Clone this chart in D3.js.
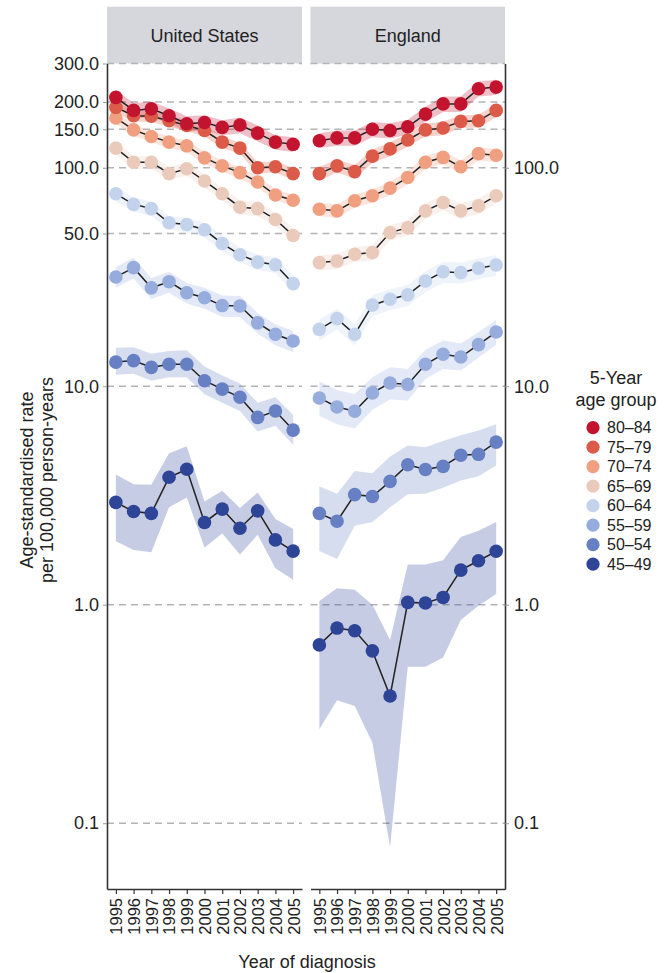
<!DOCTYPE html>
<html>
<head>
<meta charset="utf-8">
<script src="https://cdn.jsdelivr.net/npm/d3@7"></script>
<style>
  body { margin: 0; background: #fff; }
  text { font-family: "Liberation Sans", Arial, Helvetica, sans-serif; fill: #222; }
</style>
</head>
<body>
<svg id="chart" width="672" height="973"></svg>
<script>
const years = [1995, 1996, 1997, 1998, 1999, 2000, 2001, 2002, 2003, 2004, 2005];
const ageGroups = ["80–84", "75–79", "70–74", "65–69", "60–64", "55–59", "50–54", "45–49"];
const groupColors = ["#c2142f", "#dc5a48", "#f0a081", "#eacbbb", "#c3d3ec", "#96acdc", "#6780c3", "#2d4497"];
const panelNames = ["United States", "England"];
const leftTicks = [300, 200, 150, 100, 50, 10, 1, 0.1];
const rightTicks = [100, 10, 1, 0.1];

// United States: rate, lower and upper bound per age group
const us80 = [210, 183, 186, 173, 159, 161, 153, 157, 144, 131, 128];
const us80Lo = [194, 168, 171, 159, 146, 148, 141, 144, 132, 121, 118];
const us80Hi = [227, 198, 201, 187, 172, 174, 165, 170, 156, 141, 138];
const us75 = [189, 173, 172, 164, 156, 148, 131, 123, 100, 101, 94];
const us75Lo = [178, 163, 162, 154, 147, 139, 123, 116, 94, 95, 88];
const us75Hi = [200, 183, 182, 174, 165, 157, 139, 130, 106, 107, 100];
const us70 = [169, 149, 139, 131, 126, 111, 102, 95, 86, 75, 71];
const us70Lo = [159, 140, 131, 123, 118, 104, 96, 89, 81, 71, 67];
const us70Hi = [179, 158, 147, 139, 134, 118, 108, 101, 91, 80, 75];
const us65 = [123, 106, 106, 94, 99, 87, 76, 66, 65, 58, 49];
const us65Lo = [115, 99, 99, 88, 92, 81, 71, 61, 60, 54, 46];
const us65Hi = [132, 113, 113, 101, 106, 93, 81, 71, 70, 62, 53];
const us60 = [76, 68, 65, 56, 55, 52, 45, 40, 37, 36, 29.5];
const us60Lo = [70, 63, 60, 52, 51, 48, 41.5, 37, 34, 33, 27];
const us60Hi = [82, 73, 70, 60, 59, 56, 49, 43, 40, 39, 32];
const us55 = [31.6, 34.9, 28.2, 30.1, 26.8, 25.4, 23.4, 23.3, 19.5, 17.3, 16.1];
const us55Lo = [28.2, 31.1, 25.1, 26.8, 23.9, 22.6, 20.8, 20.7, 17.4, 15.4, 14.3];
const us55Hi = [35.1, 38.7, 31.3, 33.4, 29.7, 28.2, 26, 25.9, 21.6, 19.2, 17.9];
const us50 = [12.9, 13.1, 12.2, 12.6, 12.6, 10.6, 9.7, 8.9, 7.2, 7.7, 6.3];
const us50Lo = [11.3, 11.4, 10.6, 11.0, 11.0, 9.2, 8.4, 7.7, 6.2, 6.6, 5.4];
const us50Hi = [15.0, 15.1, 14.1, 14.5, 14.6, 12.3, 11.2, 10.3, 8.4, 8.9, 7.4];
const us45 = [2.94, 2.67, 2.62, 3.83, 4.17, 2.38, 2.74, 2.24, 2.69, 1.98, 1.76];
const us45Lo = [1.95, 1.78, 1.74, 2.79, 3.10, 1.83, 2.12, 1.70, 2.09, 1.47, 1.30];
const us45Hi = [3.94, 3.56, 3.54, 4.94, 5.31, 2.97, 3.32, 2.77, 3.26, 2.47, 2.22];

// England
const en80 = [133, 137, 137, 150, 148, 154, 176, 196, 196, 230, 234];
const en80Lo = [123, 126, 126, 138, 136, 142, 162, 180, 180, 212, 215];
const en80Hi = [144, 148, 148, 162, 160, 166, 190, 212, 212, 248, 253];
const en75 = [94, 102, 96, 113, 122, 134, 149, 152, 163, 164, 183];
const en75Lo = [87, 95, 89, 105, 113, 125, 139, 141, 152, 153, 170];
const en75Hi = [101, 109, 103, 121, 131, 143, 159, 163, 174, 175, 196];
const en70 = [64.6, 63.5, 70.6, 74.4, 80.7, 90.3, 106, 111.5, 101, 116, 114];
const en70Lo = [60, 59, 65.7, 69.2, 75, 84, 98.6, 103.7, 94, 108, 106];
const en70Hi = [69.1, 68, 75.5, 79.6, 86.3, 96.6, 113.4, 119.3, 108, 124, 122];
const en65 = [36.8, 37.4, 40.2, 40.9, 50.5, 53.2, 63.5, 69.3, 63.5, 66.9, 74.4];
const en65Lo = [33.9, 34.4, 37, 37.6, 46.5, 49, 58.4, 63.8, 58.4, 61.5, 68.4];
const en65Hi = [39.7, 40.4, 43.4, 44.2, 54.5, 57.5, 68.6, 74.8, 68.6, 72.3, 80.4];
const en60 = [18.2, 20.4, 17.3, 23.5, 25.0, 26.2, 30.3, 33.4, 33.1, 34.7, 35.9];
const en60Lo = [16.2, 18.2, 15.4, 20.9, 22.3, 23.3, 27, 29.7, 29.5, 30.9, 32];
const en60Hi = [20.2, 22.6, 19.2, 26.1, 27.8, 29.1, 33.6, 37.1, 36.7, 38.5, 39.8];
const en55 = [8.84, 8.04, 7.68, 9.32, 10.35, 10.18, 12.6, 14.0, 13.6, 15.5, 17.7];
const en55Lo = [7.3, 6.7, 6.4, 7.8, 8.7, 8.6, 10.8, 12.0, 11.8, 13.5, 15.5];
const en55Hi = [10.5, 9.6, 9.2, 11.0, 12.2, 12.0, 14.7, 16.2, 15.7, 17.7, 20.1];
const en50 = [2.62, 2.41, 3.19, 3.13, 3.67, 4.37, 4.16, 4.30, 4.83, 4.88, 5.55];
const en50Lo = [1.76, 1.62, 2.30, 2.39, 2.79, 3.2, 3.22, 3.43, 3.70, 3.87, 4.34];
const en50Hi = [3.48, 3.22, 4.09, 4.0, 4.77, 5.36, 5.26, 5.61, 5.96, 6.28, 6.7];
const en45 = [0.655, 0.782, 0.760, 0.615, 0.382, 1.025, 1.018, 1.08, 1.44, 1.59, 1.756];
const en45Lo = [0.269, 0.365, 0.344, 0.234, 0.0776, 0.52, 0.52, 0.573, 0.851, 0.99, 1.12];
const en45Hi = [1.04, 1.19, 1.17, 1.0, 0.69, 1.53, 1.53, 1.60, 2.04, 2.18, 2.39];

// group rows per panel, same order as ageGroups
const panelData = [
    { rate: [us80, us75, us70, us65, us60, us55, us50, us45],
      lo: [us80Lo, us75Lo, us70Lo, us65Lo, us60Lo, us55Lo, us50Lo, us45Lo],
      hi: [us80Hi, us75Hi, us70Hi, us65Hi, us60Hi, us55Hi, us50Hi, us45Hi] },
    { rate: [en80, en75, en70, en65, en60, en55, en50, en45],
      lo: [en80Lo, en75Lo, en70Lo, en65Lo, en60Lo, en55Lo, en50Lo, en45Lo],
      hi: [en80Hi, en75Hi, en70Hi, en65Hi, en60Hi, en55Hi, en50Hi, en45Hi] }
];

const svg = d3.select("#chart");
const plotTop = 63.5, plotBottom = 889;
const panelRanges = [[107, 302], [310.5, 505]];

const y = d3.scaleLog().domain([0.05, 300]).range([plotBottom, plotTop]);
const fmt = d3.format(".1f");

panelData.forEach((pd, p) => {
    const [x0, x1] = panelRanges[p];
    const x = d3.scalePoint().domain(years).range([x0, x1]).padding(0.5);
    const g = svg.append("g").attr("class", "panel");

    // strip header
    g.append("rect")
        .attr("x", x0).attr("y", 6.7)
        .attr("width", x1 - x0).attr("height", plotTop - 6.7)
        .attr("fill", "#d6d7dd");
    g.append("text")
        .attr("x", (x0 + x1) / 2).attr("y", 36)
        .attr("dy", "0.35em")
        .attr("text-anchor", "middle")
        .style("font-size", "18px")
        .text(panelNames[p]);

    // dashed gridlines
    g.selectAll(".grid")
        .data(leftTicks)
        .join("line")
        .attr("class", "grid")
        .attr("x1", x0).attr("x2", x1)
        .attr("y1", d => y(d)).attr("y2", d => y(d))
        .attr("stroke", "#b4b4b4")
        .attr("stroke-width", 1.6)
        .attr("stroke-dasharray", "7,5");

    const idx = d3.range(years.length);
    const area = (lo, hi) => d3.area()
        .x(i => x(years[i]))
        .y0(i => y(lo[i]))
        .y1(i => y(hi[i]))(idx);
    const line = vals => d3.line()
        .x(i => x(years[i]))
        .y(i => y(vals[i]))(idx);

    // confidence bands first
    ageGroups.forEach((ag, k) => {
        g.append("path")
            .attr("d", area(pd.lo[k], pd.hi[k]))
            .attr("fill", groupColors[k])
            .attr("fill-opacity", 0.27);
    });

    // lines and dots, youngest first so 80-84 sits on top
    for (let k = ageGroups.length - 1; k >= 0; k--) {
        g.append("path")
            .attr("d", line(pd.rate[k]))
            .attr("fill", "none")
            .attr("stroke", "#222")
            .attr("stroke-width", 1.5);
        g.selectAll(null)
            .data(idx)
            .join("circle")
            .attr("cx", i => x(years[i]))
            .attr("cy", i => y(pd.rate[k][i]))
            .attr("r", 6.8)
            .attr("fill", groupColors[k]);
    }

    // bottom axis with rotated year labels
    const xAxis = g.append("g")
        .attr("transform", `translate(0,${plotBottom})`)
        .call(d3.axisBottom(x).tickSize(5).tickSizeOuter(0));
    xAxis.select(".domain").attr("stroke", "#333").attr("stroke-width", 1.6);
    xAxis.selectAll(".tick line").attr("stroke", "#333").attr("stroke-width", 1.2);
    xAxis.selectAll(".tick text")
        .attr("transform", "rotate(-90)")
        .attr("x", -9).attr("y", 0)
        .attr("dy", "0.36em")
        .attr("text-anchor", "end")
        .attr("fill", "#222")
        .style("font-size", "16.5px")
        .style("font-family", "Liberation Sans, Arial, sans-serif");
});

// left axis
const yLeft = svg.append("g")
    .attr("transform", `translate(${panelRanges[0][0]},0)`)
    .call(d3.axisLeft(y).tickValues(leftTicks).tickFormat(fmt).tickSize(4).tickSizeOuter(0).tickPadding(4));
yLeft.select(".domain").attr("stroke", "#333").attr("stroke-width", 1.6);
yLeft.selectAll(".tick line").attr("stroke", "#999");
yLeft.selectAll(".tick text")
    .attr("fill", "#222")
    .style("font-size", "18px")
    .style("font-family", "Liberation Sans, Arial, sans-serif");

// right axis
const yRight = svg.append("g")
    .attr("transform", `translate(${panelRanges[1][1]},0)`)
    .call(d3.axisRight(y).tickValues(rightTicks).tickFormat(fmt).tickSize(4).tickSizeOuter(0).tickPadding(5));
yRight.select(".domain").attr("stroke", "#333").attr("stroke-width", 1.6);
yRight.selectAll(".tick line").attr("stroke", "#999");
yRight.selectAll(".tick text")
    .attr("fill", "#222")
    .style("font-size", "18px")
    .style("font-family", "Liberation Sans, Arial, sans-serif");

// axis titles
svg.append("text")
    .attr("x", 307).attr("y", 968)
    .attr("text-anchor", "middle")
    .style("font-size", "18px")
    .text("Year of diagnosis");

const yTitle = svg.append("text")
    .attr("transform", "translate(0,480) rotate(-90)")
    .attr("text-anchor", "middle")
    .style("font-size", "18px");
yTitle.append("tspan").attr("x", 0).attr("y", 33).text("Age-standardised rate");
yTitle.append("tspan").attr("x", 0).attr("y", 53).text("per 100,000 person-years");

// legend
const legend = svg.append("g").attr("transform", "translate(593,0)");
legend.append("text")
    .attr("x", 23).attr("y", 384)
    .attr("text-anchor", "middle")
    .style("font-size", "18px")
    .text("5-Year");
legend.append("text")
    .attr("x", 23).attr("y", 406)
    .attr("text-anchor", "middle")
    .style("font-size", "18px")
    .text("age group");

const items = legend.selectAll(".item")
    .data(ageGroups)
    .join("g")
    .attr("class", "item")
    .attr("transform", (d, i) => `translate(0,${427.7 + i * 19.5})`);
items.append("circle")
    .attr("r", 6.6)
    .attr("fill", (d, i) => groupColors[i]);
items.append("text")
    .attr("x", 14).attr("dy", "0.36em")
    .style("font-size", "16px")
    .text(d => d);
</script>
</body>
</html>
